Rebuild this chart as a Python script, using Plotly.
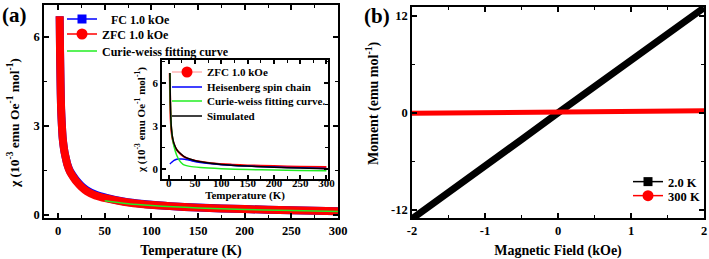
import plotly.graph_objects as go

# ---------------- data: panel (a) main ----------------
T_zfc = [1.8, 2.2, 2.7, 3.3, 4.2, 5, 6, 7, 8.5, 10, 13, 17, 20, 25, 31, 40, 52, 70, 92, 120, 150, 200, 250, 300]
chi_zfc = [6.7, 5.5, 4.5, 3.6, 3.0, 2.6, 2.33, 2.12, 1.9, 1.7, 1.45, 1.25, 1.12, 0.95, 0.8, 0.66, 0.56, 0.45, 0.36, 0.3, 0.25, 0.2, 0.16, 0.13]
T_fc = [1.8, 2.2, 2.7, 3.3, 4.2, 5, 6, 7, 8.5, 10, 13, 17, 20, 25, 31, 40, 52, 70, 92, 120, 150, 200, 250, 300]
chi_fc = [6.7, 5.5, 4.5, 3.6, 3.0, 2.6, 2.33, 2.12, 1.9, 1.71, 1.47, 1.28, 1.15, 0.98, 0.83, 0.69, 0.58, 0.46, 0.37, 0.3, 0.25, 0.2, 0.16, 0.13]
T_cw = [50, 75, 100, 150, 200, 250, 300]
chi_cw = [0.48, 0.38, 0.32, 0.24, 0.19, 0.15, 0.12]

# ---------------- data: panel (a) inset ----------------
T_in = [1.8, 2.2, 2.7, 3.3, 4.2, 5, 7, 10, 13, 17, 20, 25, 31, 40, 52, 70, 92, 120, 150, 200, 250, 300]
chi_in_zfc = [6.7, 5.5, 4.5, 3.6, 3.0, 2.6, 2.1, 1.7, 1.45, 1.25, 1.12, 0.95, 0.8, 0.66, 0.56, 0.45, 0.36, 0.3, 0.25, 0.2, 0.16, 0.13]
T_heis = [2, 5, 10, 15, 20, 25, 30, 40, 60, 100, 150, 200, 250, 300]
chi_heis = [0.35, 0.45, 0.6, 0.68, 0.7, 0.7, 0.68, 0.6, 0.45, 0.3, 0.2, 0.13, 0.08, 0.04]
T_cwi = [2, 3, 5, 8, 10, 15, 20, 27, 40, 60, 100, 150, 200, 250, 300]
chi_cwi = [6.7, 4.4, 2.8, 1.9, 1.55, 0.95, 0.6, 0.32, 0.18, 0.1, 0.02, -0.04, -0.08, -0.1, -0.12]
T_sim = [2, 3, 4, 5, 7, 10, 15, 20, 30, 40, 60, 100, 150, 200, 250, 300]
chi_sim = [6.7, 4.6, 3.4, 2.8, 2.2, 1.75, 1.35, 1.15, 0.85, 0.7, 0.5, 0.32, 0.2, 0.12, 0.06, 0.02]

# ---------------- data: panel (b) ----------------
H = [-2, -1.5, -1, -0.5, 0, 0.5, 1, 1.5, 2]
M_2K = [-13.1, -9.9, -6.6, -3.3, 0.0, 3.2, 6.4, 9.7, 13.0]
M_300K = [-0.05, 0.0, 0.04, 0.08, 0.12, 0.16, 0.2, 0.24, 0.28]

# tick labels of panel (b) (plain hyphen minus, as in the reference)
H_ticks = [-2, -1, 0, 1, 2]
H_ticktext = ["-2", "-1", "0", "1", "2"]
M_ticks = [-12, 0, 12]
M_ticktext = ["-12", "0", "12"]

FONT = "Liberation Serif"
W, Hh = 709, 259
NB = "\u00a0"

fig = go.Figure()


def leg_entry(name, legend, color, xa, ya, symbol=None, msize=10, lcolor=None, lw=1.5):
    mode = "lines+markers" if symbol else "lines"
    tr = dict(x=[None], y=[None], mode=mode, name=name, legend=legend,
              line=dict(color=lcolor or color, width=lw), xaxis=xa, yaxis=ya, hoverinfo="skip")
    if symbol:
        tr["marker"] = dict(symbol=symbol, size=msize, color=color)
    fig.add_trace(go.Scatter(**tr))


# main panel (a)
fig.add_trace(go.Scatter(x=T_fc, y=chi_fc, mode="lines", line=dict(color="#0000ff", width=8, shape="spline", smoothing=0.6),
                         showlegend=False, xaxis="x", yaxis="y"))
fig.add_trace(go.Scatter(x=T_zfc, y=chi_zfc, mode="lines", line=dict(color="#ff0000", width=8, shape="spline", smoothing=0.6),
                         showlegend=False, xaxis="x", yaxis="y"))
fig.add_trace(go.Scatter(x=T_cw, y=chi_cw, mode="lines", line=dict(color="#22ee22", width=1.5, shape="spline"),
                         showlegend=False, xaxis="x", yaxis="y"))
leg_entry(NB * 3 + "FC 1.0 kOe", "legend", "#0000ff", "x", "y", symbol="square", msize=9)
leg_entry("ZFC 1.0 kOe", "legend2", "#ff0000", "x", "y", symbol="circle", msize=11)
leg_entry("Curie-weiss fitting curve", "legend3", "#22ee22", "x", "y")

# inset
fig.add_trace(go.Scatter(x=T_in, y=chi_in_zfc, mode="lines", line=dict(color="#ff0000", width=2, shape="spline", smoothing=0.6),
                         showlegend=False, xaxis="x3", yaxis="y3"))
fig.add_trace(go.Scatter(x=T_heis, y=chi_heis, mode="lines", line=dict(color="#0000ff", width=1.5, shape="spline"),
                         showlegend=False, xaxis="x3", yaxis="y3"))
fig.add_trace(go.Scatter(x=T_cwi, y=chi_cwi, mode="lines", line=dict(color="#22ee22", width=1.5, shape="spline", smoothing=0.6),
                         showlegend=False, xaxis="x3", yaxis="y3"))
fig.add_trace(go.Scatter(x=T_sim, y=chi_sim, mode="lines", line=dict(color="#000000", width=1.5, shape="spline", smoothing=0.6),
                         showlegend=False, xaxis="x3", yaxis="y3"))
leg_entry("ZFC 1.0 kOe", "legend4", "#ff0000", "x3", "y3", symbol="circle", msize=11, lcolor="#ff9090", lw=1)
leg_entry("Heisenberg spin chain", "legend5", "#0000ff", "x3", "y3")
leg_entry("Curie-weiss fitting curve.", "legend6", "#22ee22", "x3", "y3")
leg_entry("Simulated", "legend7", "#000000", "x3", "y3")

# panel (b)
fig.add_trace(go.Scatter(x=H, y=M_2K, mode="lines", line=dict(color="#000000", width=7),
                         showlegend=False, xaxis="x2", yaxis="y2"))
fig.add_trace(go.Scatter(x=H, y=M_300K, mode="lines", line=dict(color="#ff0000", width=5),
                         showlegend=False, xaxis="x2", yaxis="y2"))
leg_entry("2.0 K", "legend8", "#000000", "x2", "y2", symbol="square", msize=9)
leg_entry("300 K", "legend9", "#ff0000", "x2", "y2", symbol="circle", msize=11)


def ax(domain, rng, dtick, minor_dtick, tick0=0, size=12.5, tlen=5):
    return dict(domain=domain, range=rng, dtick=dtick, tick0=tick0,
                showline=True, linecolor="black", linewidth=1.5, mirror="ticks",
                ticks="inside", ticklen=tlen, tickwidth=1.5, tickcolor="black",
                showgrid=False, zeroline=False, automargin=False,
                tickfont=dict(family=FONT, size=size, color="black", weight="bold"),
                minor=dict(ticks="inside", ticklen=3, tickwidth=1.2, tickcolor="black",
                           dtick=minor_dtick, tick0=tick0, showgrid=False))


def ttl(text, size=14, standoff=6):
    return dict(text=text, font=dict(family=FONT, size=size, color="black", weight="bold"), standoff=standoff)


xa = ax([44 / W, 338 / W], [-15, 300], 50, 25)
xa.update(anchor="y", title=ttl("Temperature (K)", 14, 8))
ya = ax([41 / Hh, 254 / Hh], [-0.1, 7.08], 3, 1.5)
ya.update(anchor="x")

xb = ax([412 / W, 704 / W], [-2, 2], 1, 0.5)
xb.update(anchor="y2", title=ttl("Magnetic Field (kOe)", 14, 8),
          tickmode="array", tickvals=H_ticks, ticktext=H_ticktext)
yb = ax([41 / Hh, 252 / Hh], [-13.0, 13.1], 12, 6)
yb.update(anchor="x2", tickmode="array", tickvals=M_ticks, ticktext=M_ticktext)

xi = ax([162 / W, 328 / W], [-13, 303], 50, 25, size=11, tlen=4)
xi.update(anchor="y3", title=ttl("Temperature (K)", 11, 2), ticklabelstandoff=-7)
yi = ax([80 / Hh, 199 / Hh], [-0.7, 7.6], 3, 1.5, size=11, tlen=4)
yi.update(anchor="x3", title=ttl("χ (10<sup>-3</sup> emu Oe<sup>-1</sup> mol<sup>-1</sup>)", 11, 5))


def legend_at(x, y, size):
    return dict(x=x / W, y=1 - y / Hh, xanchor="left", yanchor="middle", bgcolor="rgba(0,0,0,0)",
                font=dict(family=FONT, size=size, color="black", weight="bold"),
                itemwidth=30, borderwidth=0)


legends = {
    "legend": legend_at(62, 19, 12), "legend2": legend_at(62, 34, 12), "legend3": legend_at(62, 51, 12),
    "legend4": legend_at(167, 72, 11), "legend5": legend_at(167, 87, 11),
    "legend6": legend_at(167, 101, 11), "legend7": legend_at(167, 116, 11),
    "legend8": legend_at(628, 182, 12.5), "legend9": legend_at(628, 196, 12.5),
}

fig.update_layout(
    width=W, height=Hh,
    margin=dict(l=0, r=0, t=0, b=0),
    paper_bgcolor="white", plot_bgcolor="white",
    xaxis=xa, yaxis=ya, xaxis2=xb, yaxis2=yb, xaxis3=xi, yaxis3=yi,
    annotations=[
        dict(text="(a)", x=0 / W, y=1 - 1 / Hh, xref="paper", yref="paper", xanchor="left", yanchor="top",
             showarrow=False, font=dict(family=FONT, size=21, color="black", weight="bold")),
        dict(text="(b)", x=362 / W, y=1 - 2 / Hh, xref="paper", yref="paper", xanchor="left", yanchor="top",
             showarrow=False, font=dict(family=FONT, size=21, color="black", weight="bold")),
        dict(text="χ (10<sup>-3</sup> emu Oe<sup>-1</sup> mol<sup>-1</sup>)", textangle=-90,
             x=14 / W, y=1 - 123 / Hh, xref="paper", yref="paper", xanchor="center", yanchor="middle",
             showarrow=False, font=dict(family=FONT, size=13.5, color="black", weight="bold")),
        dict(text="Moment (emu mol<sup>-1</sup>)", textangle=-90,
             x=372 / W, y=1 - 103 / Hh, xref="paper", yref="paper", xanchor="center", yanchor="middle",
             showarrow=False, font=dict(family=FONT, size=14, color="black", weight="bold")),
    ],
    **legends,
)

fig.write_html("out.html", config={"displayModeBar": False},
               post_script="document.body.style.margin='0px';document.body.style.overflow='hidden';")
